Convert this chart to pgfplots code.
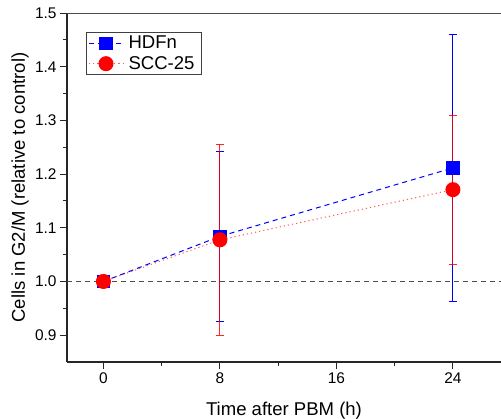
\documentclass[border=0pt]{standalone}
\usepackage{fontspec}
\setmainfont{Liberation Sans}
\usepackage{pgfplots}
\pgfplotsset{compat=1.18}
\begin{document}
\begin{tikzpicture}
\useasboundingbox (-67bp,-57bp) rectangle (434bp,362bp);
\begin{axis}[
  scale only axis, width=434bp, height=349bp,
  xmin=-2.5, xmax=27.3, ymin=0.85, ymax=1.5,
  axis x line*=bottom, axis y line*=left,
  axis line style={line width=1.2bp, black!85},
  xtick={0,8,16,24}, minor xtick={4,12,20},
  ytick={0.9,1.0,1.1,1.2,1.3,1.4,1.5},
  minor ytick={0.95,1.05,1.15,1.25,1.35,1.45},
  tick align=outside,
  major tick length=7bp, minor tick length=4bp,
  every tick/.style={line width=1bp, black!85},
  /pgf/number format/assume math mode=true,
  ticklabel style={font=\fontsize{15.5}{18}\selectfont},
  yticklabel style={/pgf/number format/.cd, fixed, fixed zerofill, precision=1},
  label style={font=\fontsize{18.6}{22}\selectfont},
  xlabel={Time after PBM (h)},
  ylabel={Cells in G2/M (relative to control)},
  xlabel style={at={(axis description cs:0.5,-0.1519)}, anchor=base},
  ylabel style={at={(axis description cs:-0.0968,0.5)}, anchor=base},
  legend style={at={(axis description cs:0.044,0.946)}, anchor=north west,
    font=\fontsize{18.6}{22}\selectfont, draw=black!75, line width=0.8bp,
    inner sep=2bp, row sep=2bp,
    nodes={inner xsep=5bp}},
  legend cell align=left,
  legend image code/.code={\draw[mark repeat=2,mark phase=2] plot coordinates {(0cm,0cm) (0.6cm,0cm) (1.2cm,0cm)};},
]
\addplot[forget plot, black!70, line width=1bp, dash pattern=on 5bp off 4bp] coordinates {(-2.5,1) (27.3,1)};
\addplot[blue, line width=1bp, dash pattern=on 5bp off 4bp,
  mark=square*, mark size=6.3bp, mark options={solid, draw=blue, fill=blue},
  error bars/.cd, y dir=both, y explicit,
  error bar style={solid, line width=1bp, blue},
  error mark options={rotate=90, mark size=4bp, line width=1bp, blue}]
  coordinates {(0,1.0) +- (0,0) (8,1.084) +- (0,0.158) (24,1.2115) +- (0,0.249)};
\addlegendentry{HDFn}
\addplot[red!65, line width=1bp, dash pattern=on 1.2bp off 3bp,
  mark=*, mark size=7bp, mark options={solid, draw=red, fill=red},
  error bars/.cd, y dir=both, y explicit,
  error bar style={solid, line width=1bp, red, opacity=0.85},
  error mark options={rotate=90, mark size=4bp, line width=1bp, red, opacity=0.85}]
  coordinates {(0,1.0) +- (0,0) (8,1.0775) +- (0,0.178) (24,1.171) +- (0,0.139)};
\addlegendentry{SCC-25}
\draw[line width=1.2bp, black!70] (rel axis cs:0,1) -- (rel axis cs:1,1);
\end{axis}
\end{tikzpicture}
\end{document}
